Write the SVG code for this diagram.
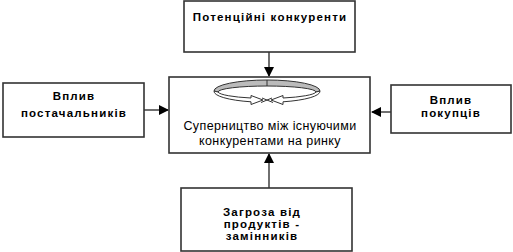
<svg xmlns="http://www.w3.org/2000/svg" width="513" height="252" viewBox="0 0 513 252">
<defs>
<style>
.box{fill:#fff;stroke:#333;stroke-width:1.6}
.b{font-family:"Liberation Sans",Arial,sans-serif;font-weight:bold;font-size:11.5px;fill:#000;text-anchor:middle;letter-spacing:1.2px}
.n{font-family:"Liberation Sans",Arial,sans-serif;font-size:12.5px;fill:#000;text-anchor:middle;letter-spacing:0.4px}
.con{stroke:#333;stroke-width:1.4;fill:none}
.ic{stroke:#333;stroke-width:1}
</style>
<marker id="ah" markerWidth="10" markerHeight="10" refX="9" refY="5" orient="auto" markerUnits="userSpaceOnUse">
<path d="M0,0 L10,5 L0,10 Z" fill="#000"/>
</marker>
</defs>
<rect width="513" height="252" fill="#fff"/>
<g id="connectors">
<line class="con" x1="269" y1="52" x2="269" y2="76" marker-end="url(#ah)"/>
<line class="con" x1="144" y1="110" x2="168" y2="110" marker-end="url(#ah)"/>
<line class="con" x1="391" y1="112" x2="372" y2="112" marker-end="url(#ah)"/>
<line class="con" x1="269" y1="188" x2="269" y2="154" marker-end="url(#ah)"/>
</g>
<g id="top">
<rect class="box" x="184" y="1" width="171" height="51"/>
<text class="b" x="270" y="21">Потенційні конкуренти</text>
</g>
<g id="left">
<rect class="box" x="3" y="83" width="141" height="54"/>
<text class="b" x="74" y="100">Вплив</text>
<text class="b" x="74" y="117">постачальників</text>
</g>
<g id="center">
<rect class="box" x="169" y="77" width="201" height="76"/>
<path class="ic" d="M214,91 A53,11 0 0 1 320,91 L316,92 A49,6 0 0 0 218,92 Z" fill="#bbb"/>
<path class="ic" d="M214,91 A53,11 0 0 0 251,101.8 L251,104.5 L263,100 L251,95.5 L251,98 A49,7 0 0 1 218,92 Z" fill="#fff"/>
<path class="ic" d="M320,91 A53,11 0 0 1 283,101.8 L283,104.5 L271,100 L283,95.5 L283,98 A49,7 0 0 0 316,92 Z" fill="#fff"/>
<path class="ic" d="M262,98 L273,102.5 M272,98 L261,102.5" fill="none"/>
<line class="ic" x1="267" y1="80" x2="267" y2="86"/>
<text class="n" x="270" y="130">Суперництво між існуючими</text>
<text class="n" x="270" y="145">конкурентами на ринку</text>
</g>
<g id="right">
<rect class="box" x="391" y="85" width="120" height="48"/>
<text class="b" x="451" y="104">Вплив</text>
<text class="b" x="451" y="117">покупців</text>
</g>
<g id="bottom">
<rect class="box" x="181" y="188" width="171" height="63"/>
<text class="b" x="262" y="216">Загроза  від</text>
<text class="b" x="262" y="228">продуктів -</text>
<text class="b" x="262" y="240">замінників</text>
</g>
</svg>
